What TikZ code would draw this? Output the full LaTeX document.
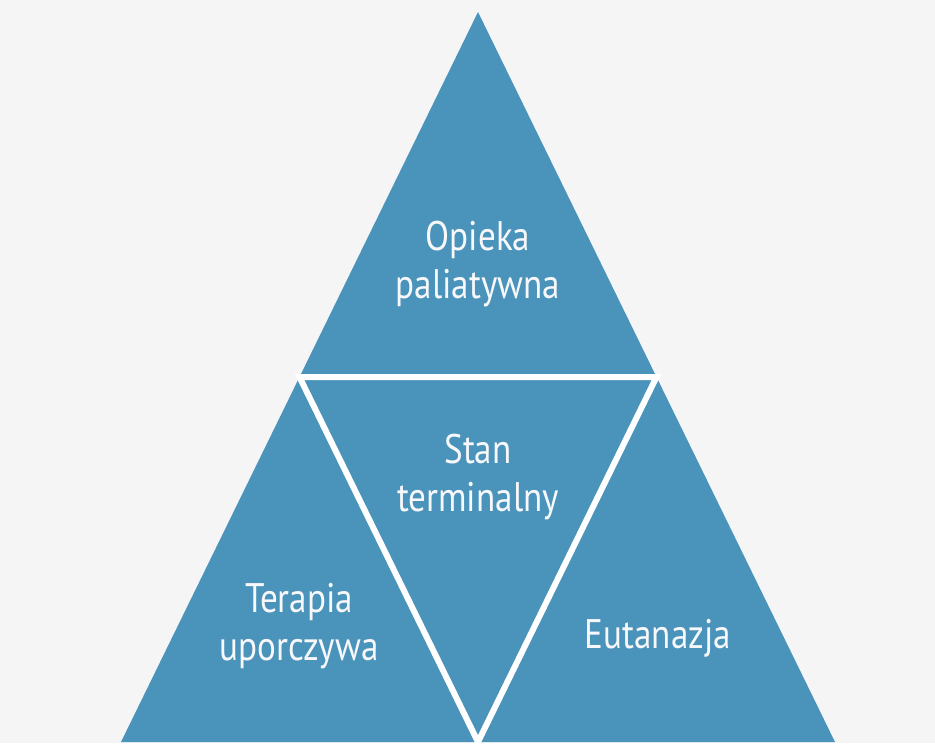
\documentclass[tikz,border=0pt]{standalone}
\usepackage{fontspec}
\setmainfont[FakeStretch=0.85]{PT Sans}
\usepackage{tikz}
\usetikzlibrary{calc}
\definecolor{pyrblue}  {RGB}{74, 147, 187}
\definecolor{bggray}   {RGB}{245, 245, 245}
\definecolor{textwhite}{RGB}{248, 248, 250}
\tikzset{
	label/.style={text=textwhite, align=center, font=\fontsize{23.5}{27}\selectfont},
	gap/.style={draw=white, line width=0.12cm, line cap=round}
}

\begin{document}
\begin{tikzpicture}
	\fill[bggray] (0,0) rectangle (18.7,14.94);
	\fill[white] (0,0) rectangle (18.7,0.08);
	\coordinate (L) at (2.42,0.10);
	\coordinate (R) at (16.70,0.10);
	\coordinate (T) at (9.56,14.70);
	\coordinate (ML) at ($(L)!0.5!(T)$);
	\coordinate (MR) at ($(R)!0.5!(T)$);
	\coordinate (MB) at ($(L)!0.5!(R)$);
	\fill[pyrblue] (L)--(R)--(T)--cycle;
	\draw[gap] (ML)--(MR)--(MB)--cycle;
	\node[label] (top)   at (9.56,9.66)  {Opieka\\paliatywna};
	\node[label] (mid)   at (9.56,5.40)  {Stan\\terminalny};
	\node[label] (left)  at (5.98,2.42)  {Terapia\\uporczywa};
	\node[label] (right) at (13.16,2.18) {Eutanazja};
\end{tikzpicture}
\end{document}
